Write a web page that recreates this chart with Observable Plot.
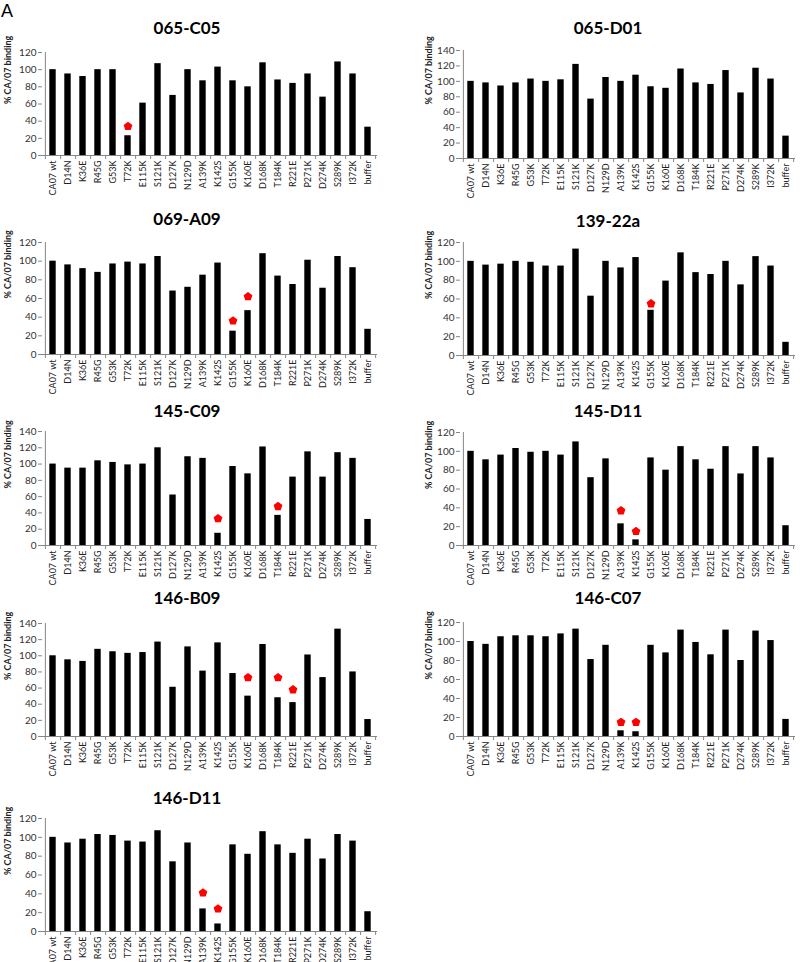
<!DOCTYPE html>
<html><head><meta charset="utf-8">
<script src="https://cdn.jsdelivr.net/npm/d3@7"></script>
<script src="https://cdn.jsdelivr.net/npm/@observablehq/plot@0.6"></script>
<style>
html,body{margin:0;padding:0;width:800px;height:962px;overflow:hidden;background:#fff;}
#root{position:relative;width:800px;height:962px;overflow:hidden;}
.panel{position:absolute;}
.title{position:absolute;font-family:Lato,"Open Sans",sans-serif;font-weight:700;font-size:17px;color:#000;transform:translate(-50%,-50%);white-space:nowrap;}
.letter{position:absolute;left:1px;top:1px;font-family:"Liberation Sans",Arial,sans-serif;font-size:18px;line-height:20px;color:#000;}
</style></head><body><div id="root"><div class="letter">A</div></div>
<script>
const categories = ["CA07 wt","D14N","K36E","R45G","G53K","T72K","E115K","S121K","D127K","N129D","A139K","K142S","G155K","K160E","D168K","T184K","R221E","P271K","D274K","S289K","I372K","buffer"];

const titles = ["065-C05","065-D01","069-A09","139-22a","145-C09","145-D11","146-B09","146-C07","146-D11"];
const yMax = [120,140,120,120,140,120,140,120,120];

const v065C05 = [100,95,92,100,100,23,61,107,70,100,87,103,87,80,108,88,84,95,68,109,95,33];
const v065D01 = [100,98,94,98,103,100,102,122,77,105,100,108,93,91,116,98,96,114,85,117,103,29];
const v069A09 = [100,96,92,88,97,99,97,105,68,72,85,98,25,47,108,84,75,101,71,105,93,27];
const v13922a = [100,96,97,100,99,95,95,113,63,100,93,104,48,79,109,88,86,100,75,105,95,14];
const v145C09 = [100,95,95,104,102,99,100,120,62,109,107,15,97,88,121,37,84,115,84,114,107,32];
const v145D11 = [100,91,96,103,99,100,96,110,72,92,23,6,93,80,105,91,81,105,76,105,93,21];
const v146B09 = [100,95,93,108,105,103,104,117,61,111,81,116,78,50,114,48,42,101,73,133,80,21];
const v146C07 = [100,97,105,106,106,105,108,113,81,96,6,5,96,88,112,99,86,112,80,111,101,18];
const v146D11 = [100,94,98,103,102,96,95,107,74,94,24,8,92,82,106,92,83,98,77,103,96,21];

const m065C05 = [["T72K",34]];
const m065D01 = [];
const m069A09 = [["G155K",36],["K160E",62]];
const m13922a = [["G155K",55]];
const m145C09 = [["K142S",33],["T184K",48]];
const m145D11 = [["A139K",37],["K142S",15]];
const m146B09 = [["K160E",73],["T184K",73],["R221E",58]];
const m146C07 = [["A139K",15],["K142S",15]];
const m146D11 = [["A139K",41],["K142S",24]];

const series = [v065C05,v065D01,v069A09,v13922a,v145C09,v145D11,v146B09,v146C07,v146D11];
const markers = [m065C05,m065D01,m069A09,m13922a,m145C09,m145D11,m146B09,m146C07,m146D11];

// layout (pixel placement of each panel)
const layout = [
  {col:0, yTop:52,  yZero:155, titleY:27},
  {col:1, yTop:50,  yZero:158, titleY:27},
  {col:0, yTop:242, yZero:354, titleY:218},
  {col:1, yTop:242, yZero:355, titleY:220},
  {col:0, yTop:431, yZero:545, titleY:410},
  {col:1, yTop:432, yZero:545, titleY:410},
  {col:0, yTop:623, yZero:736, titleY:597},
  {col:1, yTop:622, yZero:736, titleY:597},
  {col:0, yTop:818, yZero:931, titleY:797}
];

const pentagon = {
  draw(ctx, size) {
    const r = Math.sqrt(size / Math.PI);
    for (let i = 0; i < 5; i++) {
      const a = -Math.PI / 2 + i * 2 * Math.PI / 5;
      const x = r * Math.cos(a), y = r * Math.sin(a);
      if (i) ctx.lineTo(x, y); else ctx.moveTo(x, y);
    }
    ctx.closePath();
  }
};

const root = document.getElementById("root");
const plotW = 335;
const bw = plotW / categories.length;
const axisColor = "#868686";

titles.forEach((title, k) => {
  const cfg = layout[k];
  const left = cfg.col ? 400 : 0;
  const mL = cfg.col ? 60 : 42;
  const width = cfg.col ? 400 : 385;
  const mR = width - mL - plotW;
  const mT = 8, mB = 52;
  const plotH = cfg.yZero - cfg.yTop;
  const height = mT + plotH + mB;
  const data = categories.map((c, i) => ({c, v: series[k][i]}));
  const svg = Plot.plot({
    width, height,
    marginLeft: mL, marginRight: mR, marginTop: mT, marginBottom: mB,
    style: {background: "none", fontFamily: "Lato, 'Open Sans', sans-serif", overflow: "visible", maxWidth: "none"},
    x: {domain: categories, padding: 0},
    y: {domain: [0, yMax[k]]},
    marks: [
      Plot.barY(data, {x: "c", y: "v", fill: "#000", insetLeft: 4.3, insetRight: 4.3}),
      Plot.ruleY([0], {stroke: axisColor}),
      Plot.ruleX([categories[0]], {x: d => d, dx: -bw / 2, stroke: axisColor, insetBottom: -4}),
      Plot.ruleX(categories, {x: d => d, dx: bw / 2, y1: 0, y2: 0, insetBottom: -4, stroke: axisColor}),
      Plot.axisY({ticks: d3.range(0, yMax[k] + 1, 20), tickSize: 4, tickPadding: 2, fontSize: 10, stroke: axisColor, fill: "#333", label: null}),
      Plot.axisX({tickRotate: -90, tickSize: 0, tickPadding: 5, fontSize: 9, fill: "#222", label: null}),
      Plot.text(["% CA/07 binding"], {frameAnchor: "left", rotate: -90, dx: cfg.col ? -31 : -34, fontWeight: "bold", fontSize: 9, fill: "#222"}),
      Plot.dot(markers[k], {x: d => d[0], y: d => d[1], symbol: pentagon, r: 4.6, fill: "#ff0000", stroke: "none"})
    ]
  });
  const div = document.createElement("div");
  div.className = "panel";
  div.style.left = left + "px";
  div.style.top = (cfg.yTop - mT) + "px";
  div.appendChild(svg);
  root.appendChild(div);

  const t = document.createElement("div");
  t.className = "title";
  t.textContent = title;
  t.style.left = (cfg.col ? 608 : 187) + "px";
  t.style.top = cfg.titleY + "px";
  root.appendChild(t);
});
</script>
</body></html>
